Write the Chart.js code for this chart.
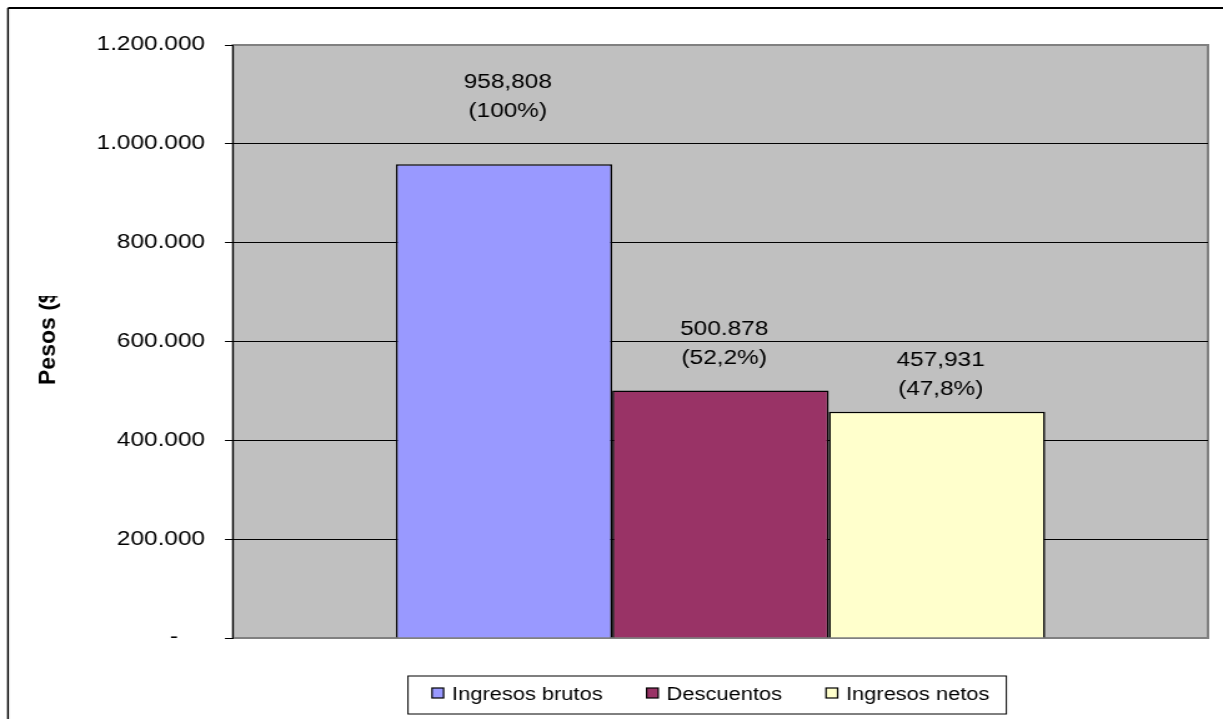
<!DOCTYPE html>
<html>
<head>
<meta charset="utf-8">
<script src="https://cdn.jsdelivr.net/npm/chart.js@4.4.1/dist/chart.umd.min.js"></script>
<style>
  html, body { margin: 0; padding: 0; background: #fff; overflow: hidden; }
  #lienzo { width: 979px; height: 719px; transform: scaleX(1.2492); transform-origin: 0 0; }
</style>
</head>
<body>
<div id="lienzo"><canvas id="grafico" width="979" height="719"></canvas></div>
<script>
// datos del grafico
const categorias = ['Ingresos brutos', 'Descuentos', 'Ingresos netos'];
const valores = [958808, 500878, 457931];
const etiquetasValor = ['958,808', '500.878', '457,931'];
const etiquetasPorcentaje = ['(100%)', '(52,2%)', '(47,8%)'];
const colores = ['#9999FF', '#993366', '#FFFFCC'];
const ticksY = ['-    ', '200.000', '400.000', '600.000', '800.000', '1.000.000', '1.200.000'];

// el original esta estirado en horizontal
const ESTIRAMIENTO = 1223 / 979;
const FUENTE = '"Liberation Sans", Arial, sans-serif';

Chart.defaults.font.family = FUENTE;
Chart.defaults.color = '#000';

const fondo = {
    id: 'fondo',
    beforeDraw(chart) {
        const ctx = chart.ctx;
        const a = chart.chartArea;
        ctx.save();
        ctx.fillStyle = '#fff';
        ctx.fillRect(0, 0, chart.width, chart.height);
        // marco exterior
        ctx.strokeStyle = '#000';
        ctx.lineWidth = 2;
        ctx.beginPath();
        ctx.moveTo(6.4, 8);
        ctx.lineTo(chart.width + 5, 8);
        ctx.stroke();
        ctx.lineWidth = 1.4;
        ctx.beginPath();
        ctx.moveTo(6.4, 8);
        ctx.lineTo(6.4, chart.height + 5);
        ctx.stroke();
        // area de trazado
        ctx.fillStyle = '#C0C0C0';
        ctx.fillRect(a.left, a.top, a.right - a.left, a.bottom - a.top);
        ctx.strokeStyle = '#808080';
        ctx.lineWidth = 2;
        ctx.strokeRect(a.left, a.top, a.right - a.left, a.bottom - a.top);
        ctx.restore();
    }
};

const etiquetas = {
    id: 'etiquetas',
    afterDatasetsDraw(chart, args, opts) {
        const ctx = chart.ctx;
        ctx.save();
        ctx.font = '19.5px ' + FUENTE;
        ctx.fillStyle = '#000';
        ctx.textAlign = 'center';
        ctx.textBaseline = 'middle';
        chart.data.datasets.forEach((ds, i) => {
            const el = chart.getDatasetMeta(i).data[0];
            const y2 = el.y - opts.desplazamientos[i];
            ctx.fillText(etiquetasValor[i], el.x + 3, y2 - 29);
            ctx.fillText(etiquetasPorcentaje[i], el.x + 3, y2);
        });
        ctx.restore();
    }
};

const tituloEje = {
    id: 'tituloEje',
    afterDraw(chart) {
        const ctx = chart.ctx;
        ctx.save();
        // el titulo aparece cortado en el original
        ctx.beginPath();
        ctx.rect(0, 296, 150, 400);
        ctx.clip();
        ctx.translate(44, 385);
        ctx.scale(1 / ESTIRAMIENTO, 1);
        ctx.rotate(-Math.PI / 2);
        ctx.font = 'bold 23px ' + FUENTE;
        ctx.fillStyle = '#000';
        ctx.textAlign = 'left';
        ctx.textBaseline = 'alphabetic';
        ctx.fillText('Pesos ($)', 0, 0);
        ctx.restore();
    }
};

const leyenda = {
    id: 'leyenda',
    afterDraw(chart) {
        const ctx = chart.ctx;
        const izq = 326.6, arriba = 676, abajo = 714;
        ctx.save();
        ctx.font = '17.5px ' + FUENTE;
        ctx.textBaseline = 'alphabetic';
        ctx.textAlign = 'left';
        ctx.lineWidth = 1.2;
        ctx.strokeStyle = '#000';
        let x = izq + 19.2;
        chart.data.datasets.forEach((ds, i) => {
            ctx.fillStyle = ds.backgroundColor;
            ctx.fillRect(x, 688, 9.3, 10);
            ctx.strokeRect(x, 688, 9.3, 10);
            x += 16;
            ctx.fillStyle = '#000';
            ctx.fillText(ds.label, x, 700);
            x += ctx.measureText(ds.label).width;
            if (i < chart.data.datasets.length - 1) x += 35.2;
        });
        ctx.lineWidth = 1;
        ctx.strokeRect(izq, arriba, x + 13.6 - izq, abajo - arriba);
        ctx.restore();
    }
};

const datasets = categorias.map((c, i) => ({
    label: c,
    data: [valores[i]],
    backgroundColor: colores[i],
    borderColor: '#000',
    borderWidth: 1.6
}));

new Chart(document.getElementById('grafico'), {
    type: 'bar',
    data: {
        labels: [''],
        datasets: datasets
    },
    options: {
        responsive: false,
        animation: false,
        devicePixelRatio: 1,
        categoryPercentage: 0.666,
        barPercentage: 1,
        layout: {
            padding: { left: 0, right: 12, top: 45, bottom: 81 }
        },
        scales: {
            x: { display: false },
            y: {
                min: 0,
                max: 1200000,
                afterFit(scale) {
                    scale.width = 186.5;
                },
                ticks: {
                    stepSize: 200000,
                    padding: 16,
                    font: { size: 19.5 },
                    color: '#000',
                    callback: (v, i) => ticksY[i]
                },
                grid: {
                    color: c => (c.tick && (c.tick.value === 0 || c.tick.value === 1200000)) ? 'rgba(0,0,0,0)' : '#000',
                    tickColor: '#000',
                    tickLength: 6.4,
                    lineWidth: 1
                },
                border: { display: true, color: '#000', width: 1 }
            }
        },
        plugins: {
            legend: { display: false },
            tooltip: { enabled: false },
            etiquetas: { desplazamientos: [53, 32, 22] }
        }
    },
    plugins: [fondo, etiquetas, tituloEje, leyenda]
});
</script>
</body>
</html>
